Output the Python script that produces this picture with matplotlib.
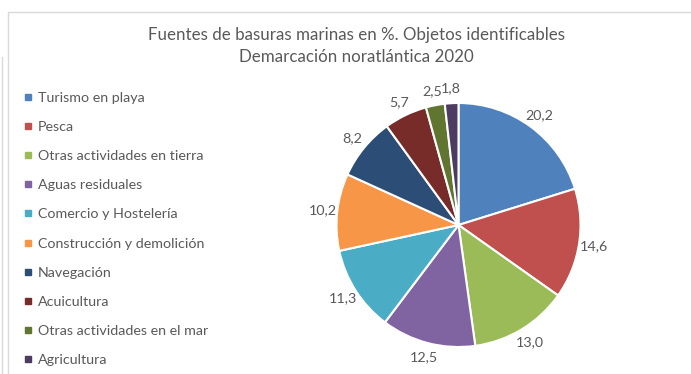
import matplotlib
matplotlib.use("Agg")
import matplotlib.pyplot as plt
from matplotlib.patches import Rectangle
from matplotlib.lines import Line2D

categories = [
    "Turismo en playa",
    "Pesca",
    "Otras actividades en tierra",
    "Aguas residuales",
    "Comercio y Hostelería",
    "Construcción y demolición",
    "Navegación",
    "Acuicultura",
    "Otras actividades en el mar",
    "Agricultura",
]
values = [20.2, 14.6, 13.0, 12.5, 11.3, 10.2, 8.2, 5.7, 2.5, 1.8]
colors = ["#4F81BD", "#C0504D", "#9BBB59", "#8064A2", "#4BACC6",
          "#F79646", "#2C4D75", "#772C2A", "#5F7530", "#4D3B62"]

title = "Fuentes de basuras marinas en %. Objetos identificables\nDemarcación noratlántica 2020"
text_color = "#595959"

plt.rcParams["font.family"] = ["Lato", "DejaVu Sans"]

W, H = 691, 374
fig = plt.figure(figsize=(W / 100, H / 100), dpi=100)

# chart frame
fig.patches.append(Rectangle((8 / W, -0.1), 1.0, 1.1 - 12 / H, transform=fig.transFigure,
                             fill=False, edgecolor="#d9d9d9", linewidth=1.0))
fig.add_artist(Line2D([1.5 / W, 1.5 / W], [0, 1 - 57 / H], transform=fig.transFigure,
                      color="#d9d9d9", linewidth=1.0))

fig.text(356 / W, 1 - 46 / H, title, ha="center", va="center", fontsize=12.2,
         color=text_color, linespacing=1.4)

# pie area
cx, cy, r = 458.5, 225, 122
size = 2 * r / 0.98
ax = fig.add_axes([(cx - size / 2) / W, 1 - (cy + size / 2) / H, size / W, size / H])
wedges, texts = ax.pie(values, colors=colors, startangle=90, counterclock=False,
                       radius=0.98, labels=[f"{v:.1f}".replace(".", ",") for v in values],
                       labeldistance=1.12,
                       wedgeprops=dict(edgecolor="white", linewidth=1.5),
                       textprops=dict(color=text_color, fontsize=10.3))
for t in texts:
    t.set_ha("center")
    t.set_va("center")
ax.set_xlim(-1, 1)
ax.set_ylim(-1, 1)
ax.set_aspect("equal")
ax.axis("off")

handles = [Line2D([], [], marker="s", linestyle="none", markersize=5,
                  markerfacecolor=c, markeredgecolor=c) for c in colors]
leg = fig.legend(handles, categories, loc="upper left",
                 bbox_to_anchor=(18 / W, 1 - 86 / H), frameon=False,
                 fontsize=10.3, labelcolor=text_color, handlelength=0.6,
                 handletextpad=0.4, labelspacing=1.2, borderaxespad=0)

fig.savefig("out.png", dpi=100)
